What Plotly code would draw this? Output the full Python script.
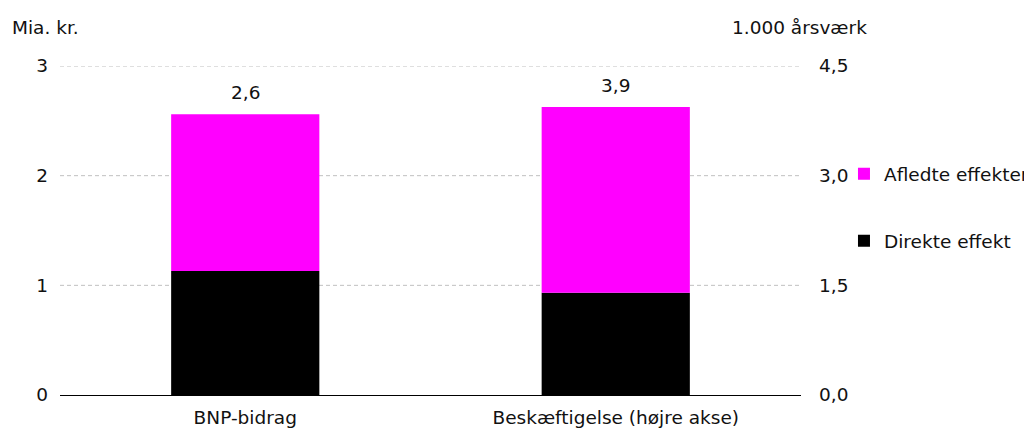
import plotly.graph_objects as go

categories = ["BNP-bidrag", "Beskæftigelse (højre akse)"]
direct = [1.13, 1.40]      # BNP in mia. kr. (left), Beskæftigelse in 1.000 årsværk (right)
derived = [1.43, 2.54]
series_names = ["Direkte effekt", "Afledte effekter"]
colors = ["#000000", "#FF00FF"]
left_ticks = [0, 1, 2, 3]
right_ticks = [0, 1.5, 3.0, 4.5]

FONT = "DejaVu Sans"
TXT = "#111111"
FS = 18.5

fig = go.Figure()
axes = ["y", "y2"]
for i, cat in enumerate(categories):
    fig.add_trace(go.Bar(x=[cat], y=[direct[i]], yaxis=axes[i], name=series_names[0],
                         marker=dict(color=colors[0], line=dict(width=0)),
                         legendgroup="d", legendrank=2, showlegend=(i == 0), hoverinfo="skip"))
    fig.add_trace(go.Bar(x=[cat], y=[derived[i]], base=[direct[i]], yaxis=axes[i], name=series_names[1],
                         marker=dict(color=colors[1], line=dict(width=0)),
                         legendgroup="a", legendrank=1, showlegend=(i == 0), hoverinfo="skip"))
    total = direct[i] + derived[i]
    fig.add_annotation(x=cat, y=total, yref=axes[i], text=f"{total:.1f}".replace(".", ","),
                       showarrow=False, yanchor="bottom", yshift=9,
                       font=dict(family=FONT, size=FS, color=TXT))

# dashed gridlines at the left-axis ticks (above 0)
for t in left_ticks[1:]:
    fig.add_shape(type="line", xref="paper", x0=0, x1=1, yref="y", y0=t, y1=t,
                  line=dict(color="#c0c0c0", width=1, dash="4px,3px"), layer="below")

fig.update_layout(
    width=1032, height=430,
    margin=dict(l=52, r=239, t=58, b=43, autoexpand=False),
    paper_bgcolor="white", plot_bgcolor="white",
    barmode="overlay", bargap=0.6,
    separators=",.",
    font=dict(family=FONT, size=FS, color=TXT),
    showlegend=True,
    legend=dict(x=1.058, xanchor="left", xref="paper", y=0.729, yanchor="top",
                traceorder="grouped", tracegroupgap=40, bgcolor="rgba(0,0,0,0)",
                font=dict(family=FONT, size=FS, color=TXT), itemwidth=30),
    xaxis=dict(showline=True, linecolor="black", linewidth=1, ticks="", showgrid=False,
               automargin=False, tickfont=dict(size=FS), ticklabelstandoff=6),
    yaxis=dict(range=[0, 3], tickvals=left_ticks, showgrid=False, zeroline=False, ticks="",
               ticklabelstandoff=11, automargin=False),
    yaxis2=dict(range=[0, 4.5], tickvals=right_ticks, tickformat=".1f", overlaying="y", side="right",
                showgrid=False, zeroline=False, ticks="", ticklabelstandoff=17, automargin=False),
    annotations=list(fig.layout.annotations) + [
        dict(text="Mia. kr.", xref="paper", yref="paper", x=-0.0675, y=1.1185, xanchor="left",
             yanchor="middle", showarrow=False, font=dict(family=FONT, size=FS, color=TXT)),
        dict(text="1.000 årsværk", xref="paper", yref="paper", x=0.904, y=1.1185, xanchor="left",
             yanchor="middle", showarrow=False, font=dict(family=FONT, size=FS, color=TXT)),
    ],
)

fig.write_html("out.html")
